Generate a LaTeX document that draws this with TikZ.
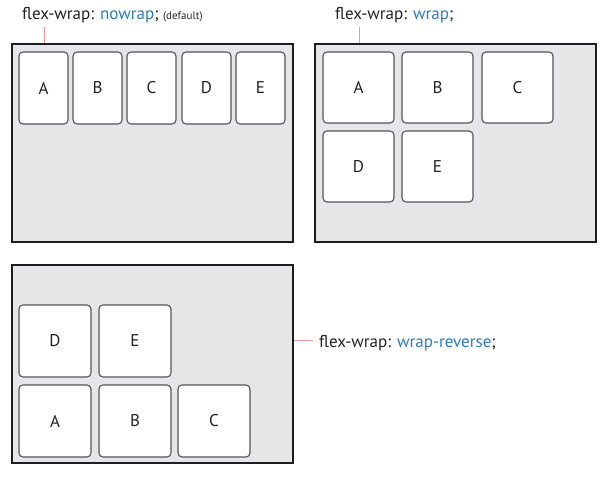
\documentclass[tikz,border=0pt]{standalone}
\usepackage{fontspec}
\setmainfont{PT Sans}
\definecolor{panelfill}{HTML}{E6E6E8}
\definecolor{panelline}{HTML}{1E1E1E}
\definecolor{itemline}{HTML}{555555}
\definecolor{leadc}{HTML}{EE9A94}
\definecolor{kw}{HTML}{2B7BC0}
\definecolor{txt}{HTML}{222222}
\tikzset{
  panel/.style={draw=panelline, fill=panelfill, line width=2pt, inner sep=0pt},
  item/.style={draw=itemline, fill=white, line width=1.1pt, rounded corners=4pt, inner sep=0pt, font=\fontsize{17}{17}\selectfont, text=txt},
  leader/.style={draw=leadc, line width=1pt},
  lbl/.style={anchor=base west, inner sep=0pt, font=\fontsize{17}{19}\selectfont, text=txt}
}
\begin{document}
\begin{tikzpicture}[x=1pt,y=-1pt]
\useasboundingbox (0,0) rectangle (602,497);
% panel 1
\node[panel, minimum width=281pt, minimum height=198pt] (p1) at (152,143) {};
\foreach \n/\x in {A/19,B/73,C/127,D/182,E/236}
  \node[item, minimum width=49pt, minimum height=72pt] (p1\n) at (\x+24.5,88) {\n};
\node[lbl] (l1) at (22,20) {flex-wrap: \textcolor{kw}{nowrap}; {\fontsize{11}{12}\selectfont(default)}};
\coordinate (c1) at (44,27);
\draw[leader] (c1) -- (c1 |- p1.north);
% panel 2
\node[panel, minimum width=281pt, minimum height=198pt] (p2) at (455.5,143) {};
\foreach \n/\x/\y in {A/323/52,B/402/52,C/482/52,D/323/131,E/402/131}
  \node[item, minimum width=71pt, minimum height=71pt] (p2\n) at (\x+35.5,\y+35.5) {\n};
\node[lbl] (l2) at (335,20) {flex-wrap: \textcolor{kw}{wrap};};
\coordinate (c2) at (359,27);
\draw[leader] (c2) -- (c2 |- p2.north);
% panel 3
\node[panel, minimum width=281pt, minimum height=198pt] (p3) at (152,364) {};
\foreach \n/\x/\y in {D/19/305,E/99/305,A/19/385,B/99/385,C/178/385}
  \node[item, minimum width=72pt, minimum height=72pt] (p3\n) at (\x+36,\y+36) {\n};
\node[lbl] (l3) at (319,347) {flex-wrap: \textcolor{kw}{wrap-reverse};};
\coordinate (c3) at (313,340);
\draw[leader] (c3) -- (c3 -| p3.east);
\end{tikzpicture}
\end{document}
